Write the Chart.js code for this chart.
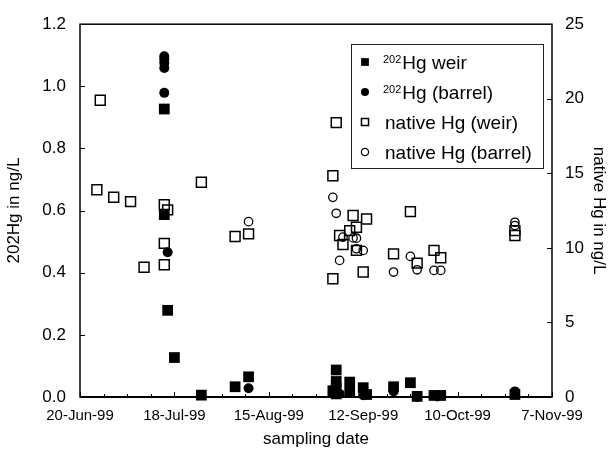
<!DOCTYPE html>
<html><head><meta charset="utf-8">
<script src="https://cdn.jsdelivr.net/npm/chart.js@4/dist/chart.umd.min.js"></script>
<style>html,body{margin:0;padding:0;background:#fff}#wrap{width:611px;height:452px;position:relative}</style>
</head><body><div id="wrap"><canvas id="c" width="611" height="452"></canvas></div>
<script>
// ---------- data ----------
const startDate = '1999-06-20';
const xTickLabels = ['20-Jun-99','18-Jul-99','15-Aug-99','12-Sep-99','10-Oct-99','7-Nov-99'];
const yLeftTickLabels = ['0.0','0.2','0.4','0.6','0.8','1.0','1.2'];
const yRightTickLabels = ['0','5','10','15','20','25'];
const seriesLabels = ['²⁰²Hg weir','²⁰²Hg (barrel)','native Hg (weir)','native Hg (barrel)'];

const weir202Dates = ['1999-07-15','1999-07-15','1999-07-16','1999-07-18','1999-07-26','1999-08-05','1999-08-09',
  '1999-09-04','1999-09-04','1999-09-04','1999-09-04','1999-09-03','1999-09-08','1999-09-08','1999-09-12','1999-09-13',
  '1999-09-21','1999-09-26','1999-09-28','1999-10-03','1999-10-05','1999-10-27'];
const weir202Values = [0.927,0.587,0.279,0.127,0.006,0.033,0.065,
  0.087,0.050,0.030,0.010,0.020,0.048,0.015,0.030,0.008,
  0.033,0.046,0.002,0.005,0.005,0.008];

const barrel202Dates = ['1999-07-15','1999-07-15','1999-07-15','1999-07-15','1999-07-15','1999-07-16','1999-08-09',
  '1999-09-05','1999-09-12','1999-09-21','1999-09-28','1999-10-04','1999-10-27'];
const barrel202Values = [1.097,1.087,1.075,1.059,0.979,0.466,0.028,
  0.010,0.006,0.018,0.000,0.002,0.018];

const nativeWeirDates = ['1999-06-26','1999-06-25','1999-06-30','1999-07-05','1999-07-09','1999-07-15','1999-07-16',
  '1999-07-15','1999-07-15','1999-07-26','1999-08-05','1999-08-09',
  '1999-09-04','1999-09-03','1999-09-09','1999-09-13','1999-09-26','1999-09-10','1999-09-08','1999-09-05',
  '1999-09-06','1999-09-10','1999-09-12','1999-09-03','1999-09-21','1999-09-28','1999-10-03','1999-10-05',
  '1999-10-27','1999-10-27'];
const nativeWeirValues = [19.9,13.9,13.4,13.1,8.7,12.9,12.55,
  10.3,8.87,14.4,10.76,10.94,
  18.4,14.84,12.17,11.94,12.43,11.38,11.16,10.83,
  10.23,9.83,8.38,7.93,9.6,8.98,9.83,9.34,
  11.16,10.83];

const nativeBarrelDates = ['1999-08-09','1999-09-03','1999-09-04','1999-09-06','1999-09-09','1999-09-10','1999-09-10',
  '1999-09-12','1999-09-05','1999-09-21','1999-09-26','1999-09-28','1999-10-03','1999-10-05','1999-10-27','1999-10-27'];
const nativeBarrelValues = [11.76,13.39,12.32,10.72,10.67,10.65,9.94,
  9.83,9.16,8.38,9.43,8.53,8.49,8.49,11.72,11.5];

// ---------- helpers ----------
function dayOf(s){const p=s.split('-').map(Number);return Date.UTC(p[0],p[1]-1,p[2]);}
const day0 = dayOf(startDate);
function toDay(s){return (dayOf(s)-day0)/86400000;}
function pts(dates, vals){return dates.map((d,i)=>({x:toDay(d),y:vals[i]}));}
const xMax = toDay('1999-11-07');
const FONT = '"Liberation Sans", Arial, Helvetica, sans-serif';

const supMap = {'⁰':'0','¹':'1','²':'2','³':'3','⁴':'4','⁵':'5','⁶':'6','⁷':'7','⁸':'8','⁹':'9'};

const decorPlugin = {
  id:'decor',
  afterDatasetsDraw(chart){
    const ctx = chart.ctx, a = chart.chartArea;
    const xs = chart.scales.x, yl = chart.scales.y, yr = chart.scales.y2;
    ctx.save();
    ctx.strokeStyle = '#000';
    // inside ticks
    ctx.lineWidth = 1;
    ctx.beginPath();
    for (let d = 0; d <= xMax; d += 7) {
      const px = Math.round(xs.getPixelForValue(d)) + 0.5;
      const len = (d % 28 === 0) ? 5 : 3;
      ctx.moveTo(px, a.bottom); ctx.lineTo(px, a.bottom - len);
    }
    yl.ticks.forEach(t => { const py = Math.round(yl.getPixelForValue(t.value)) + 0.5; ctx.moveTo(a.left, py); ctx.lineTo(a.left + 5, py); });
    yr.ticks.forEach(t => { const py = Math.round(yr.getPixelForValue(t.value)) + 0.5; ctx.moveTo(a.right, py); ctx.lineTo(a.right - 5, py); });
    ctx.stroke();
    // frame
    ctx.lineWidth = 1.5;
    ctx.strokeRect(a.left, a.top, a.right - a.left, a.bottom - a.top);
    ctx.lineWidth = 2;
    ctx.beginPath(); ctx.moveTo(a.left, a.bottom); ctx.lineTo(a.right, a.bottom); ctx.stroke();

    // legend
    const bx = 351, by = 44, bw = 192, bh = 124;
    ctx.fillStyle = '#fff';
    ctx.fillRect(bx, by, bw, bh);
    ctx.lineWidth = 1; ctx.strokeStyle = '#222';
    ctx.strokeRect(bx + 0.5, by + 0.5, bw, bh);
    chart.data.datasets.forEach((ds, i) => {
      const y = 62 + i * 30;
      ctx.fillStyle = ds.backgroundColor;
      ctx.strokeStyle = ds.borderColor;
      ctx.lineWidth = ds.borderWidth;
      Chart.helpers.drawPoint(ctx, {pointStyle: ds.pointStyle, radius: ds.legendRadius, rotation: 0, borderWidth: ds.borderWidth}, 365, y);
      // text with leading superscript
      let lab = ds.label, sup = '';
      while (lab.length && supMap[lab[0]] !== undefined) { sup += supMap[lab[0]]; lab = lab.slice(1); }
      let tx = 383;
      ctx.fillStyle = '#000';
      ctx.textBaseline = 'alphabetic';
      ctx.textAlign = 'left';
      if (sup) {
        ctx.font = '11px ' + FONT;
        ctx.fillText(sup, tx, y + 1);
        tx += ctx.measureText(sup).width + 1;
      } else { tx = 385; }
      ctx.font = '19px ' + FONT;
      ctx.fillText(lab, tx, y + 7);
    });
    ctx.restore();
  }
};

const ctx = document.getElementById('c').getContext('2d');
new Chart(ctx, {
  type: 'scatter',
  data: {
    datasets: [
      {label: seriesLabels[0], data: pts(weir202Dates, weir202Values), yAxisID: 'y',
       pointStyle: 'rect', pointRadius: 7.6, pointHoverRadius: 7.6, backgroundColor: '#000', borderColor: '#000', borderWidth: 0, legendRadius: 5.5, clip: false},
      {label: seriesLabels[1], data: pts(barrel202Dates, barrel202Values), yAxisID: 'y',
       pointStyle: 'circle', pointRadius: 5, pointHoverRadius: 5, backgroundColor: '#000', borderColor: '#000', borderWidth: 0, legendRadius: 4, clip: false},
      {label: seriesLabels[2], data: pts(nativeWeirDates, nativeWeirValues), yAxisID: 'y2',
       pointStyle: 'rect', pointRadius: 7, pointHoverRadius: 7, backgroundColor: 'rgba(0,0,0,0)', borderColor: '#000', borderWidth: 1.5, legendRadius: 5, clip: false},
      {label: seriesLabels[3], data: pts(nativeBarrelDates, nativeBarrelValues), yAxisID: 'y2',
       pointStyle: 'circle', pointRadius: 4.2, pointHoverRadius: 4.2, backgroundColor: 'rgba(0,0,0,0)', borderColor: '#000', borderWidth: 1.3, legendRadius: 3.6, clip: false}
    ]
  },
  options: {
    responsive: false,
    animation: false,
    devicePixelRatio: 1,
    layout: {padding: {top: 23, left: 0, right: 0, bottom: 0}},
    plugins: {legend: {display: false}, tooltip: {enabled: false}},
    scales: {
      x: {
        type: 'linear', min: 0, max: xMax,
        grid: {display: false, drawTicks: false}, border: {display: false},
        ticks: {stepSize: 28, padding: 10, maxRotation: 0, autoSkip: false, color: '#000',
                font: {family: FONT, size: 15}, callback: (v, i) => xTickLabels[i]},
        title: {display: true, text: 'sampling date', color: '#000', font: {family: FONT, size: 17}, padding: {top: 0, bottom: 2}},
        afterFit: s => { s.height = 55; }
      },
      y: {
        position: 'left', min: 0, max: 1.2,
        grid: {display: false, drawTicks: false}, border: {display: false},
        ticks: {stepSize: 0.2, padding: 14, color: '#000', font: {family: FONT, size: 17}, callback: (v, i) => yLeftTickLabels[i]},
        title: {display: true, text: '202Hg in ng/L', color: '#000', font: {family: FONT, size: 17}, padding: {top: 4, bottom: 0}},
        afterFit: s => { s.width = 80; }
      },
      y2: {
        position: 'right', min: 0, max: 25,
        grid: {display: false, drawTicks: false}, border: {display: false},
        ticks: {stepSize: 5, padding: 13, color: '#000', font: {family: FONT, size: 17}, callback: (v, i) => yRightTickLabels[i]},
        title: {display: true, text: 'native Hg in ng/L', color: '#000', font: {family: FONT, size: 17}, padding: {top: 2, bottom: 0}},
        afterFit: s => { s.width = 59; }
      }
    }
  },
  plugins: [decorPlugin]
});
</script>
</body></html>
